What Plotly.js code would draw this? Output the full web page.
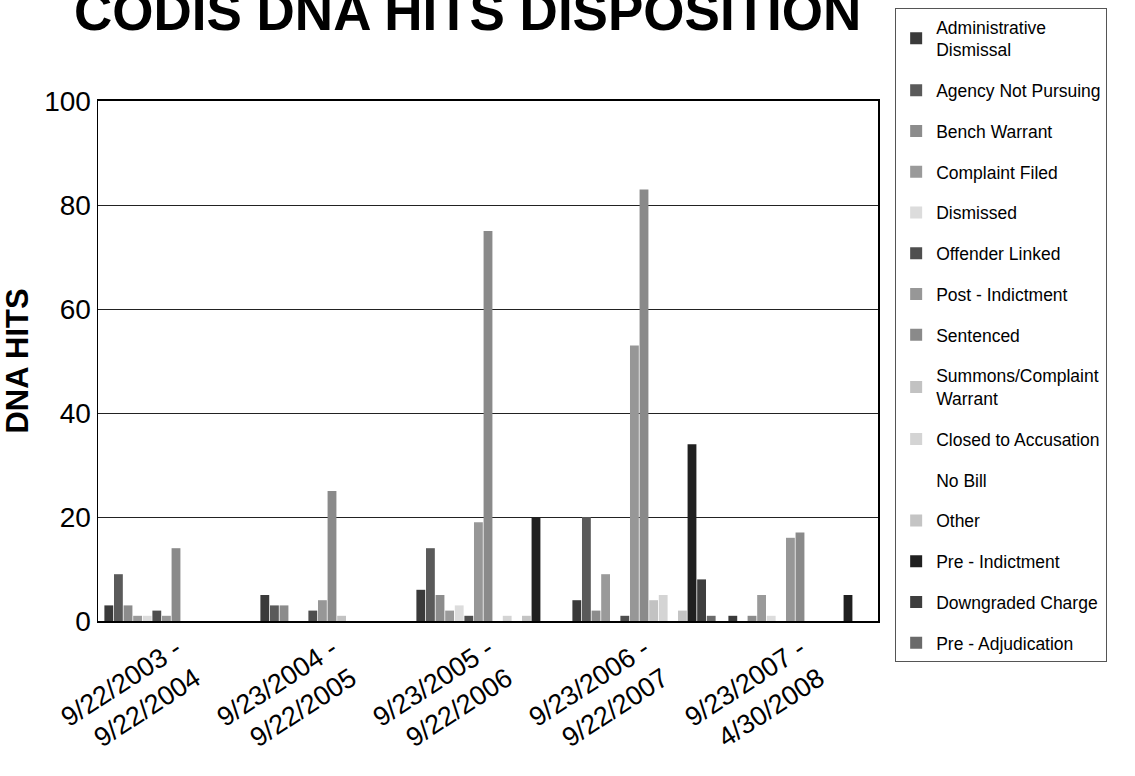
<!DOCTYPE html>
<html>
<head>
<meta charset="utf-8">
<script src="https://cdn.plot.ly/plotly-3.0.1.min.js"></script>
<style>
html,body{margin:0;padding:0;background:#fff;}
#chart{width:1135px;height:776px;}
</style>
</head>
<body>
<div id="chart"></div>
<script>
const categories = ["9/22/2003 -<br>9/22/2004", "9/23/2004 -<br>9/22/2005", "9/23/2005 -<br>9/22/2006", "9/23/2006 -<br>9/22/2007", "9/23/2007 -<br>4/30/2008"];

const seriesNames = ["Administrative<br>Dismissal", "Agency Not Pursuing", "Bench Warrant", "Complaint Filed", "Dismissed", "Offender Linked", "Post - Indictment", "Sentenced", "Summons/Complaint<br>Warrant", "Closed to Accusation", "No Bill", "Other", "Pre - Indictment", "Downgraded Charge", "Pre - Adjudication"];

const adminDismissal     = [3, 5, 6, 4, 1];
const agencyNotPursuing  = [9, 3, 14, 20, 0];
const benchWarrant       = [3, 3, 5, 2, 1];
const complaintFiled     = [1, 0, 2, 9, 5];
const dismissed          = [1, 0, 3, 0, 1];
const offenderLinked     = [2, 2, 1, 1, 0];
const postIndictment     = [1, 4, 19, 53, 16];
const sentenced          = [14, 25, 75, 83, 17];
const summonsWarrant     = [0, 1, 0, 4, 0];
const closedToAccusation = [0, 0, 1, 5, 0];
const noBill             = [0, 0, 0, 0, 0];
const other              = [0, 0, 1, 2, 0];
const preIndictment      = [0, 0, 20, 34, 5];
const downgradedCharge   = [0, 0, 0, 8, 0];
const preAdjudication    = [0, 0, 0, 1, 0];

const seriesValues = [adminDismissal, agencyNotPursuing, benchWarrant, complaintFiled, dismissed, offenderLinked, postIndictment, sentenced, summonsWarrant, closedToAccusation, noBill, other, preIndictment, downgradedCharge, preAdjudication];

const seriesColors = ["#3a3a3a", "#5a5a5a", "#8c8c8c", "#9a9a9a", "#dcdcdc", "#4e4e4e", "#979797", "#8a8a8a", "#c2c2c2", "#d4d4d4", "#ffffff", "#c4c4c4", "#202020", "#3e3e3e", "#6a6a6a"];

const FONT = "Liberation Sans, Arial, Helvetica, sans-serif";

const traces = seriesNames.map((name, i) => ({
  type: "bar",
  name: name,
  x: categories,
  y: seriesValues[i],
  legendgroup: "g" + i,
  marker: {color: seriesColors[i], line: {width: 0}},
  hoverinfo: "x+y+name"
}));

const layout = {
  width: 1135,
  height: 776,
  paper_bgcolor: "#ffffff",
  plot_bgcolor: "#ffffff",
  font: {family: FONT, color: "#000"},
  margin: {l: 98, r: 257, t: 101, b: 155, autoexpand: false},
  title: {
    text: "<b>CODIS DNA HITS DISPOSITION</b>",
    font: {family: FONT, size: 53, color: "#000"},
    x: 0.412, xanchor: "center", xref: "container",
    y: 0.985, yanchor: "middle", yref: "container"
  },
  barmode: "group",
  bargap: 0.077,
  bargroupgap: 0.08,
  xaxis: {
    type: "category",
    tickangle: -33,
    tickfont: {family: FONT, size: 27, color: "#000"},
    showline: true, linecolor: "#000", linewidth: 2,
    mirror: true,
    ticks: "",
    showgrid: false,
    automargin: false
  },
  yaxis: {
    range: [0, 100],
    dtick: 20,
    tickfont: {family: FONT, size: 28, color: "#000"},
    showline: true, linecolor: "#000", linewidth: 1.5,
    mirror: true,
    showgrid: true, gridcolor: "#222", gridwidth: 1,
    zeroline: false,
    ticks: "",
    ticklen: 0,
    automargin: false,
    title: {text: "<b>DNA HITS</b>", font: {family: FONT, size: 31, color: "#000"}, standoff: 10}
  },
  showlegend: true,
  legend: {
    x: 1.022, xanchor: "left",
    y: 1.179, yanchor: "top",
    traceorder: "grouped",
    tracegroupgap: 15,
    maxheight: 770,
    bordercolor: "#555", borderwidth: 1,
    bgcolor: "#fff",
    font: {family: FONT, size: 17.5, color: "#000"},
    itemwidth: 30
  }
};

Plotly.newPlot("chart", traces, layout, {displayModeBar: false, staticPlot: true});
</script>
</body>
</html>
